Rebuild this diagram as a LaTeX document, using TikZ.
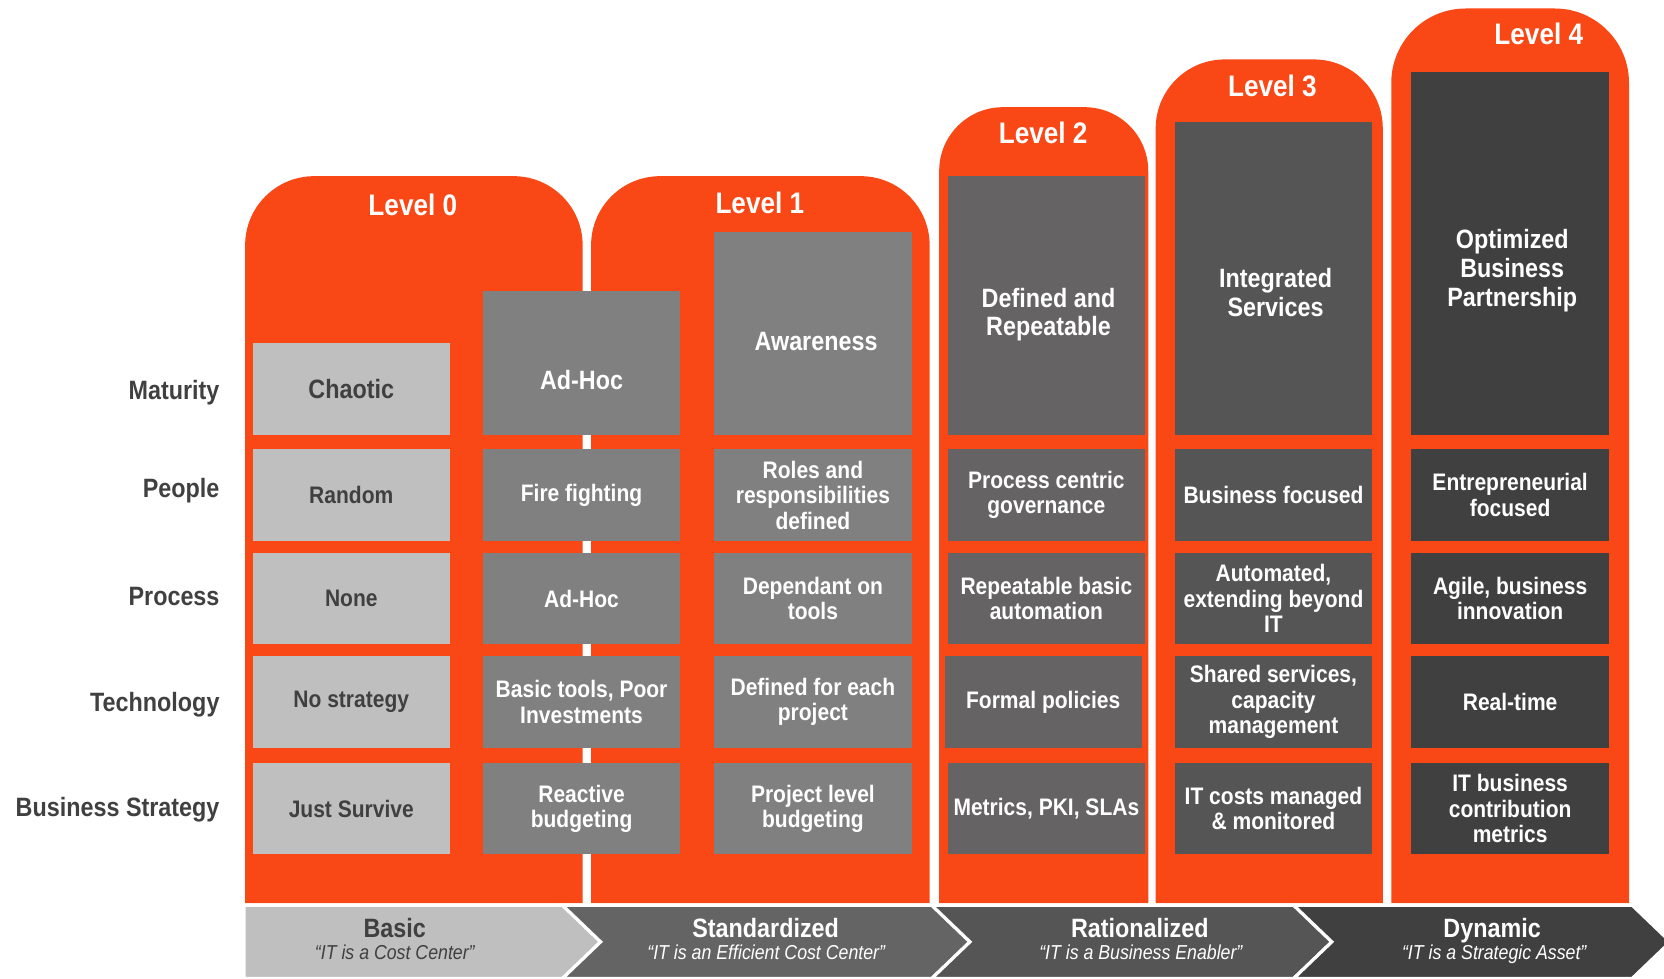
\documentclass[tikz,border=0pt]{standalone}
\usepackage{fontspec}
\setmainfont{Liberation Sans}[FakeStretch=0.88]
\definecolor{org}{RGB}{250,71,22}
\definecolor{lg}{RGB}{191,191,191}
\definecolor{dk}{RGB}{64,64,64}
\definecolor{gA}{RGB}{128,128,128}
\definecolor{gB}{RGB}{101,99,100}
\definecolor{gC}{RGB}{85,85,85}
\definecolor{gD}{RGB}{64,64,64}
\definecolor{chS}{RGB}{100,100,100}
\definecolor{chR}{RGB}{85,85,85}
\definecolor{chD}{RGB}{64,64,64}
\tikzset{
  cell/.style={minimum width=186pt, inner sep=0pt, outer sep=0pt, align=center,
    font=\fontsize{22.5}{24}\selectfont\bfseries, text=white},
  mattxt/.style={inner sep=0pt, align=center, font=\fontsize{25}{27}\selectfont\bfseries, text=white},
  rowlab/.style={anchor=base east, inner sep=0pt, font=\fontsize{25}{27}\selectfont\bfseries, text=dk},
  lvl/.style={anchor=base, inner sep=0pt, font=\fontsize{28}{30}\selectfont\bfseries, text=white},
  chevtitle/.style={anchor=base, inner sep=0pt, font=\fontsize{25}{27}\selectfont\bfseries},
  chevsub/.style={anchor=base, inner sep=0pt, font=\fontsize{19}{21}\selectfont\itshape},
  chev/.style={draw=white, line width=3pt, line join=miter},
}
\begin{document}
\begin{tikzpicture}[x=1pt,y=-1pt]
\useasboundingbox (0,0) rectangle (1568,922);
\clip (0,0) rectangle (1568,922);
% orange level columns
\fill[org] (231,851) -- (231,231) arc[start angle=180,end angle=270,radius=65] -- (484,166) arc[start angle=270,end angle=360,radius=65] -- (549,851) -- cycle;
\fill[org] (557,851) -- (557,231) arc[start angle=180,end angle=270,radius=65] -- (811,166) arc[start angle=270,end angle=360,radius=65] -- (876,851) -- cycle;
\fill[org] (885,851) -- (885,161) arc[start angle=180,end angle=270,radius=60] -- (1022,101) arc[start angle=270,end angle=360,radius=60] -- (1082,851) -- cycle;
\fill[org] (1089,851) -- (1089,121) arc[start angle=180,end angle=270,radius=65] -- (1238,56) arc[start angle=270,end angle=360,radius=65] -- (1303,851) -- cycle;
\fill[org] (1311,851) -- (1311,78) arc[start angle=180,end angle=270,radius=70] -- (1465,8) arc[start angle=270,end angle=360,radius=70] -- (1535,851) -- cycle;
% level titles
\node[lvl] (l0) at (389,203) {Level 0};
\node[lvl] (l1) at (716,201) {Level 1};
\node[lvl] (l2) at (983,135) {Level 2};
\node[lvl] (l3) at (1199,91) {Level 3};
\node[lvl] (l4) at (1450,42) {Level 4};
% row labels
\node[rowlab] (rM) at (207,376) {Maturity};
\node[rowlab] (rP) at (207,469) {People};
\node[rowlab] (rR) at (207,571) {Process};
\node[rowlab] (rT) at (207,670) {Technology};
\node[rowlab] (rB) at (207,769) {Business Strategy};
% column A (light)
\node[cell, fill=lg, text=dk, minimum height=87pt, font=\fontsize{25}{27}\selectfont\bfseries] (aM) at (331,366.5) {Chaotic};
\node[cell, fill=lg, text=dk, minimum height=87pt] (aP) at (331,466.5) {Random};
\node[cell, fill=lg, text=dk, minimum height=86pt] (aR) at (331,564) {None};
\node[cell, fill=lg, text=dk, minimum height=87pt] (aT) at (331,661.5) {No strategy};
\node[cell, fill=lg, text=dk, minimum height=86pt] (aB) at (331,762) {Just Survive};
% column B
\node[cell, fill=gA, minimum height=136pt] (bM) at (548,342) {};
\node[mattxt] (bMt) at (548,358) {Ad-Hoc};
\node[cell, fill=gA, minimum height=87pt] (bP) at (548,466.5) {Fire fighting};
\node[cell, fill=gA, minimum height=86pt] (bR) at (548,564) {Ad-Hoc};
\node[cell, fill=gA, minimum height=87pt] (bT) at (548,661.5) {Basic tools, Poor\\Investments};
\node[cell, fill=gA, minimum height=86pt] (bB) at (548,762) {Reactive\\budgeting};
% column C
\node[cell, fill=gA, minimum height=191pt] (cM) at (766,314.5) {};
\node[mattxt] (cMt) at (769,322) {Awareness};
\node[cell, fill=gA, minimum height=87pt] (cP) at (766,466.5) {Roles and\\responsibilities\\defined};
\node[cell, fill=gA, minimum height=86pt] (cR) at (766,564) {Dependant on\\tools};
\node[cell, fill=gA, minimum height=87pt] (cT) at (766,661.5) {Defined for each\\project};
\node[cell, fill=gA, minimum height=86pt] (cB) at (766,762) {Project level\\budgeting};
% level 2
\node[cell, fill=gB, minimum height=244pt] (dM) at (986,288) {};
\node[mattxt] (dMt) at (988,296.5) {Defined and\\Repeatable};
\node[cell, fill=gB, minimum height=87pt] (dP) at (986,466.5) {Process centric\\governance};
\node[cell, fill=gB, minimum height=86pt] (dR) at (986,564) {Repeatable basic\\automation};
\node[cell, fill=gB, minimum height=87pt] (dT) at (983,661.5) {Formal policies};
\node[cell, fill=gB, minimum height=86pt] (dB) at (986,762) {Metrics, PKI, SLAs};
% level 3
\node[cell, fill=gC, minimum height=295pt] (eM) at (1200,262.5) {};
\node[mattxt] (eMt) at (1202,275.5) {Integrated\\Services};
\node[cell, fill=gC, minimum height=87pt] (eP) at (1200,466.5) {Business focused};
\node[cell, fill=gC, minimum height=86pt] (eR) at (1200,564) {Automated,\\extending beyond\\IT};
\node[cell, fill=gC, minimum height=87pt] (eT) at (1200,661.5) {Shared services,\\capacity\\management};
\node[cell, fill=gC, minimum height=86pt] (eB) at (1200,762) {IT costs managed\\\& monitored};
% level 4
\node[cell, fill=gD, minimum height=342pt] (fM) at (1423,239) {};
\node[mattxt] (fMt) at (1425,255) {Optimized\\Business\\Partnership};
\node[cell, fill=gD, minimum height=87pt] (fP) at (1423,466.5) {Entrepreneurial\\focused};
\node[cell, fill=gD, minimum height=86pt] (fR) at (1423,564) {Agile, business\\innovation};
\node[cell, fill=gD, minimum height=87pt] (fT) at (1423,661.5) {Real-time};
\node[cell, fill=gD, minimum height=86pt] (fB) at (1423,762) {IT business\\contribution\\metrics};
% chevrons
\path[chev, fill=lg] (230,853) -- (530,853) -- (566,887.5) -- (530,922) -- (230,922) -- cycle;
\path[chev, fill=chS] (530,853) -- (878,853) -- (914,887.5) -- (878,922) -- (530,922) -- (566,887.5) -- cycle;
\path[chev, fill=chR] (878,853) -- (1219,853) -- (1255,887.5) -- (1219,922) -- (878,922) -- (914,887.5) -- cycle;
\path[chev, fill=chD] (1219,853) -- (1538,853) -- (1574,887.5) -- (1538,922) -- (1219,922) -- (1255,887.5) -- cycle;
\node[chevtitle, text=dk] (hB) at (372,883) {Basic};
\node[chevsub, text=dk] (sB) at (372,904) {“IT is a Cost Center”};
\node[chevtitle, text=white] (hS) at (721.5,883) {Standardized};
\node[chevsub, text=white] (sS) at (722,904) {“IT is an Efficient Cost Center”};
\node[chevtitle, text=white] (hR) at (1074,883) {Rationalized};
\node[chevsub, text=white] (sR) at (1075,904) {“IT is a Business Enabler”};
\node[chevtitle, text=white] (hD) at (1406,883) {Dynamic};
\node[chevsub, text=white] (sD) at (1408,904) {“IT is a Strategic Asset”};
\end{tikzpicture}
\end{document}
